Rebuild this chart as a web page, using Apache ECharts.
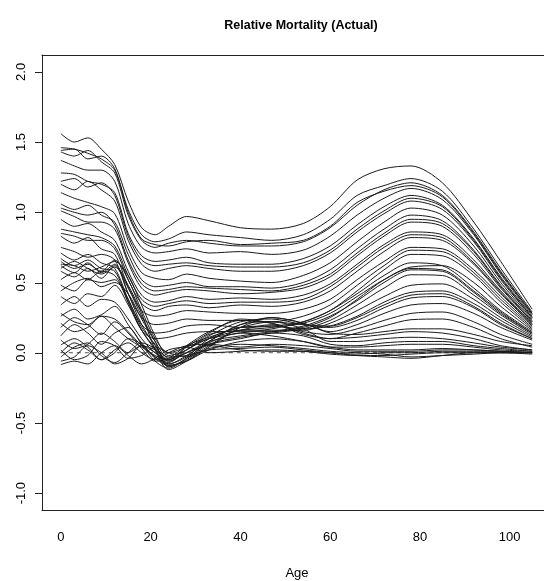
<!DOCTYPE html>
<html>
<head>
<meta charset="utf-8">
<script src="https://cdn.jsdelivr.net/npm/echarts@6/dist/echarts.min.js"></script>
<style>html,body{margin:0;padding:0;background:#fff}#c{width:544px;height:581px}</style>
</head>
<body>
<div id="c"></div>
<script>
const ages = [0,3,6,9,12,15,18,21,24,28,33,40,47,54,60,66,72,78,85,92,98,105];
const yTicks = [-1,-0.5,0,0.5,1,1.5,2];
const xTicks = [0,20,40,60,80,100];

// upper group curves
const U1  = [1.56,1.50,1.53,1.45,1.34,1.08,0.89,0.84,0.90,0.97,0.94,0.89,0.88,0.92,1.04,1.23,1.31,1.33,1.21,0.93,0.65,0.31];
const U2  = [1.46,1.45,1.42,1.38,1.30,1.02,0.84,0.79,0.81,0.86,0.84,0.82,0.80,0.84,0.95,1.12,1.19,1.24,1.15,0.88,0.60,0.29];
const U3  = [1.43,1.40,1.44,1.36,1.28,0.98,0.80,0.75,0.78,0.80,0.78,0.76,0.76,0.79,0.89,1.05,1.16,1.21,1.12,0.86,0.58,0.28];
const Ux1 = [1.44,1.45,1.38,1.40,1.31,1.00,0.81,0.77,0.76,0.79,0.80,0.77,0.78,0.80,0.90,1.07,1.15,1.19,1.11,0.85,0.57,0.28];
const U4  = [1.37,1.33,1.30,1.30,1.22,0.92,0.75,0.71,0.72,0.74,0.71,0.72,0.70,0.73,0.83,0.98,1.10,1.17,1.09,0.84,0.56,0.27];
const U5  = [1.28,1.27,1.22,1.20,1.14,0.85,0.69,0.65,0.66,0.68,0.64,0.63,0.63,0.67,0.76,0.91,1.04,1.12,1.05,0.81,0.54,0.26];
const Ux2 = [1.22,1.24,1.18,1.21,1.12,0.83,0.66,0.62,0.63,0.64,0.62,0.61,0.61,0.64,0.73,0.88,1.01,1.10,1.04,0.80,0.53,0.25];
const U6  = [1.20,1.16,1.22,1.16,1.08,0.80,0.63,0.58,0.60,0.62,0.60,0.58,0.58,0.62,0.71,0.86,0.99,1.08,1.02,0.79,0.52,0.25];
const U7  = [1.14,1.10,1.07,1.04,0.99,0.74,0.57,0.53,0.52,0.56,0.53,0.51,0.50,0.55,0.64,0.79,0.93,1.03,0.98,0.76,0.50,0.24];
const U8  = [1.06,1.02,1.05,0.98,0.93,0.70,0.52,0.47,0.48,0.50,0.47,0.47,0.46,0.50,0.59,0.74,0.88,0.98,0.94,0.73,0.48,0.23];
const Ux3 = [1.03,1.00,0.98,1.00,0.91,0.66,0.49,0.44,0.45,0.47,0.46,0.45,0.44,0.48,0.56,0.71,0.85,0.95,0.92,0.72,0.47,0.22];
const U9  = [1.01,0.97,0.93,0.93,0.88,0.64,0.46,0.41,0.43,0.45,0.44,0.42,0.43,0.46,0.54,0.69,0.83,0.93,0.90,0.70,0.46,0.22];
const U10 = [0.95,0.90,0.92,0.86,0.80,0.58,0.41,0.36,0.37,0.40,0.38,0.39,0.38,0.41,0.49,0.63,0.77,0.86,0.84,0.66,0.44,0.21];
const Ux4 = [0.88,0.86,0.84,0.82,0.76,0.55,0.38,0.33,0.35,0.37,0.35,0.36,0.36,0.38,0.47,0.61,0.75,0.84,0.82,0.64,0.43,0.20];
const U11 = [0.85,0.83,0.80,0.80,0.74,0.52,0.35,0.30,0.33,0.34,0.32,0.34,0.33,0.36,0.44,0.58,0.72,0.82,0.80,0.63,0.42,0.20];
const U12 = [0.83,0.78,0.82,0.74,0.70,0.47,0.30,0.26,0.27,0.30,0.29,0.28,0.28,0.31,0.38,0.52,0.65,0.75,0.74,0.59,0.40,0.19];
const U13 = [0.75,0.72,0.68,0.70,0.66,0.42,0.25,0.20,0.21,0.24,0.23,0.23,0.22,0.26,0.34,0.48,0.62,0.73,0.72,0.57,0.38,0.18];
const U14 = [0.71,0.66,0.70,0.64,0.60,0.38,0.20,0.14,0.15,0.19,0.20,0.18,0.19,0.22,0.30,0.44,0.59,0.70,0.69,0.55,0.36,0.17];
const U15 = [0.67,0.62,0.66,0.60,0.58,0.36,0.16,0.10,0.11,0.14,0.15,0.15,0.15,0.18,0.25,0.38,0.52,0.61,0.62,0.50,0.33,0.16];

// middle group curves
const M1  = [0.65,0.60,0.63,0.58,0.66,0.52,0.30,0.10,0.00,0.04,0.10,0.14,0.17,0.22,0.30,0.42,0.55,0.64,0.62,0.46,0.30,0.15];
const Mx1 = [0.63,0.62,0.58,0.61,0.65,0.55,0.34,0.12,-0.02,0.02,0.13,0.16,0.18,0.21,0.28,0.40,0.52,0.60,0.59,0.44,0.29,0.14];
const M2  = [0.62,0.57,0.64,0.57,0.63,0.42,0.20,0.05,-0.06,0.00,0.08,0.12,0.15,0.19,0.26,0.37,0.50,0.59,0.58,0.43,0.28,0.14];
const M3  = [0.60,0.65,0.60,0.56,0.61,0.46,0.26,0.08,-0.10,-0.05,0.06,0.11,0.14,0.17,0.23,0.34,0.46,0.555,0.55,0.41,0.27,0.13];
const M4  = [0.58,0.54,0.60,0.53,0.62,0.48,0.28,0.02,-0.12,-0.06,0.05,0.16,0.16,0.16,0.21,0.30,0.40,0.48,0.49,0.38,0.25,0.12];
const M5  = [0.52,0.57,0.52,0.58,0.55,0.38,0.18,0.06,-0.08,-0.03,0.10,0.18,0.19,0.17,0.19,0.26,0.36,0.43,0.44,0.35,0.23,0.11];
const Mx2 = [0.48,0.44,0.52,0.50,0.52,0.36,0.16,0.02,-0.10,-0.04,0.08,0.20,0.22,0.20,0.19,0.25,0.34,0.41,0.42,0.33,0.21,0.10];
const M6  = [0.44,0.50,0.53,0.47,0.50,0.42,0.24,0.08,-0.04,0.02,0.12,0.22,0.24,0.20,0.18,0.23,0.32,0.39,0.40,0.32,0.20,0.10];
const M7  = [0.40,0.35,0.42,0.40,0.48,0.34,0.16,0.03,-0.09,-0.06,0.04,0.18,0.25,0.21,0.15,0.20,0.28,0.34,0.35,0.28,0.18,0.09];
const M8  = [0.34,0.40,0.33,0.38,0.36,0.24,0.10,0.00,-0.05,0.05,0.15,0.23,0.21,0.15,0.13,0.17,0.23,0.28,0.29,0.22,0.13,0.06];
const M9  = [0.26,0.31,0.24,0.27,0.33,0.20,0.07,-0.03,-0.07,0.02,0.10,0.16,0.20,0.13,0.10,0.14,0.19,0.235,0.24,0.18,0.10,0.04];

// lower group curves
const Lox3 = [0.28,0.22,0.20,0.26,0.24,0.15,0.05,-0.03,-0.08,-0.02,0.08,0.20,0.25,0.21,0.14,0.13,0.15,0.17,0.17,0.13,0.08,0.05];
const Lo1  = [0.21,0.15,0.18,0.26,0.18,0.10,0.04,-0.02,-0.05,0.04,0.14,0.24,0.21,0.14,0.10,0.11,0.13,0.15,0.14,0.10,0.05,0.02];
const Lo2  = [0.18,0.25,0.20,0.13,0.22,0.14,0.03,-0.06,-0.04,0.05,0.11,0.18,0.22,0.17,0.08,0.08,0.10,0.11,0.10,0.07,0.04,0.02];
const Lox1 = [0.12,0.20,0.14,0.06,0.14,0.18,0.06,-0.06,-0.11,-0.04,0.07,0.14,0.12,0.08,0.04,0.04,0.05,0.06,0.06,0.04,0.02,0.01];
const Lo3  = [0.09,0.03,0.06,0.14,0.08,0.00,0.05,0.00,-0.06,0.00,0.06,0.10,0.14,0.12,0.06,0.05,0.07,0.08,0.08,0.05,0.03,0.01];
const Lo4  = [0.055,0.10,0.04,-0.05,0.00,0.10,0.06,-0.04,-0.09,-0.06,0.02,0.08,0.10,0.08,0.04,0.02,0.02,0.02,0.03,0.02,0.01,0.00];
const Lo5  = [0.02,-0.05,-0.02,0.08,0.05,-0.04,-0.02,0.04,0.00,-0.03,0.03,0.06,0.05,0.03,0.01,0.00,-0.01,-0.03,-0.02,-0.01,0.00,0.00];
const Lox2 = [0.00,0.07,0.02,-0.05,0.02,0.07,0.00,-0.05,0.00,0.05,0.06,0.04,0.06,0.05,0.03,0.01,0.01,0.01,0.02,0.02,0.01,0.00];
const Lo6  = [-0.03,0.04,0.07,-0.02,-0.07,0.00,0.07,0.03,-0.03,-0.02,0.02,0.03,0.04,0.02,0.00,-0.02,-0.03,-0.04,-0.02,0.00,0.00,-0.01];
const Lo7  = [-0.06,-0.03,0.05,0.00,-0.08,-0.04,0.05,0.02,-0.05,0.00,0.05,0.02,0.01,0.01,0.00,-0.01,0.00,0.00,0.01,0.01,0.01,0.00];
const Lo8  = [-0.085,-0.06,-0.08,0.00,0.05,-0.02,-0.08,-0.04,0.02,0.04,0.00,0.01,0.02,0.01,-0.01,-0.02,-0.02,-0.01,0.00,0.00,0.00,0.00];

// reference (zero) line
const zeroLine = [0,0,0,0,0,0,0,0,0,0,0,0,0,0,0,0,0,0,0,0,0,0];

const curves = [U1,U2,U3,Ux1,U4,U5,Ux2,U6,U7,U8,Ux3,U9,U10,Ux4,U11,U12,U13,U14,U15,
  M1,Mx1,M2,M3,M4,M5,Mx2,M6,M7,M8,M9,
  Lox3,Lo1,Lo2,Lox1,Lo3,Lo4,Lo5,Lox2,Lo6,Lo7,Lo8];

const FONT = "'Liberation Sans', Arial, Helvetica, sans-serif";
const XMIN = -4.2, XMAX = 107.64, YMIN = -1.12, YMAX = 2.12;
const toPts = arr => ages.map((a, i) => [a, arr[i]]);

const series = [{
  type: 'line', data: toPts(zeroLine), showSymbol: false, silent: true,
  lineStyle: { color: '#555', width: 1, type: [4, 4] }, z: 1
}].concat(curves.map(c => ({
  type: 'line', data: toPts(c), showSymbol: false, silent: true,
  smooth: 0.3,
  lineStyle: { color: '#1a1a1a', width: 1 }, z: 2
})));

const chart = echarts.init(document.getElementById('c'), null, { renderer: 'canvas' });
chart.setOption({
  animation: false,
  backgroundColor: '#fff',
  title: {
    text: 'Relative Mortality (Actual)',
    left: 296, top: 14, textAlign: 'center',
    textStyle: { fontFamily: FONT, fontSize: 12.5, fontWeight: 'bold', color: '#000' }
  },
  grid: { left: 42, top: 55, right: 0, bottom: 71, containLabel: false, outerBoundsMode: 'none' },
  xAxis: [{
    type: 'value', min: XMIN, max: XMAX, position: 'bottom',
    name: 'Age', nameLocation: 'middle', nameGap: 57,
    nameTextStyle: { fontFamily: FONT, fontSize: 13, color: '#000', padding: [0, 0, 0, 8] },
    axisLine: { show: true, onZero: false, lineStyle: { color: '#222', width: 1 } },
    axisTick: { show: false }, splitLine: { show: false },
    axisLabel: { customValues: xTicks, margin: 21, fontFamily: FONT, fontSize: 13, color: '#000' }
  }, {
    type: 'value', min: XMIN, max: XMAX, position: 'top',
    axisLine: { show: true, onZero: false, lineStyle: { color: '#222', width: 1 } },
    axisTick: { show: false }, axisLabel: { show: false }, splitLine: { show: false }
  }],
  yAxis: [{
    type: 'value', min: YMIN, max: YMAX, position: 'left',
    axisLine: { show: true, onZero: false, lineStyle: { color: '#222', width: 1 } },
    splitLine: { show: false },
    axisTick: { show: false },
    axisLabel: { customValues: yTicks, rotate: 90, margin: 14, fontFamily: FONT, fontSize: 13, color: '#000',
      formatter: v => v.toFixed(1) }
  }],
  series: series
});

// y-axis tick marks: positions come from the chart's own y scale
const tickGraphics = yTicks.map(v => {
  const p = chart.convertToPixel({ xAxisIndex: 0, yAxisIndex: 0 }, [XMIN, v]);
  const x = Math.round(p[0]), y = Math.round(p[1]) + 0.5;
  return { type: 'line', silent: true, z: 100,
    shape: { x1: x - 7, y1: y, x2: x, y2: y },
    style: { stroke: '#222', lineWidth: 1 } };
});
chart.setOption({ graphic: tickGraphics });
</script>
</body>
</html>
